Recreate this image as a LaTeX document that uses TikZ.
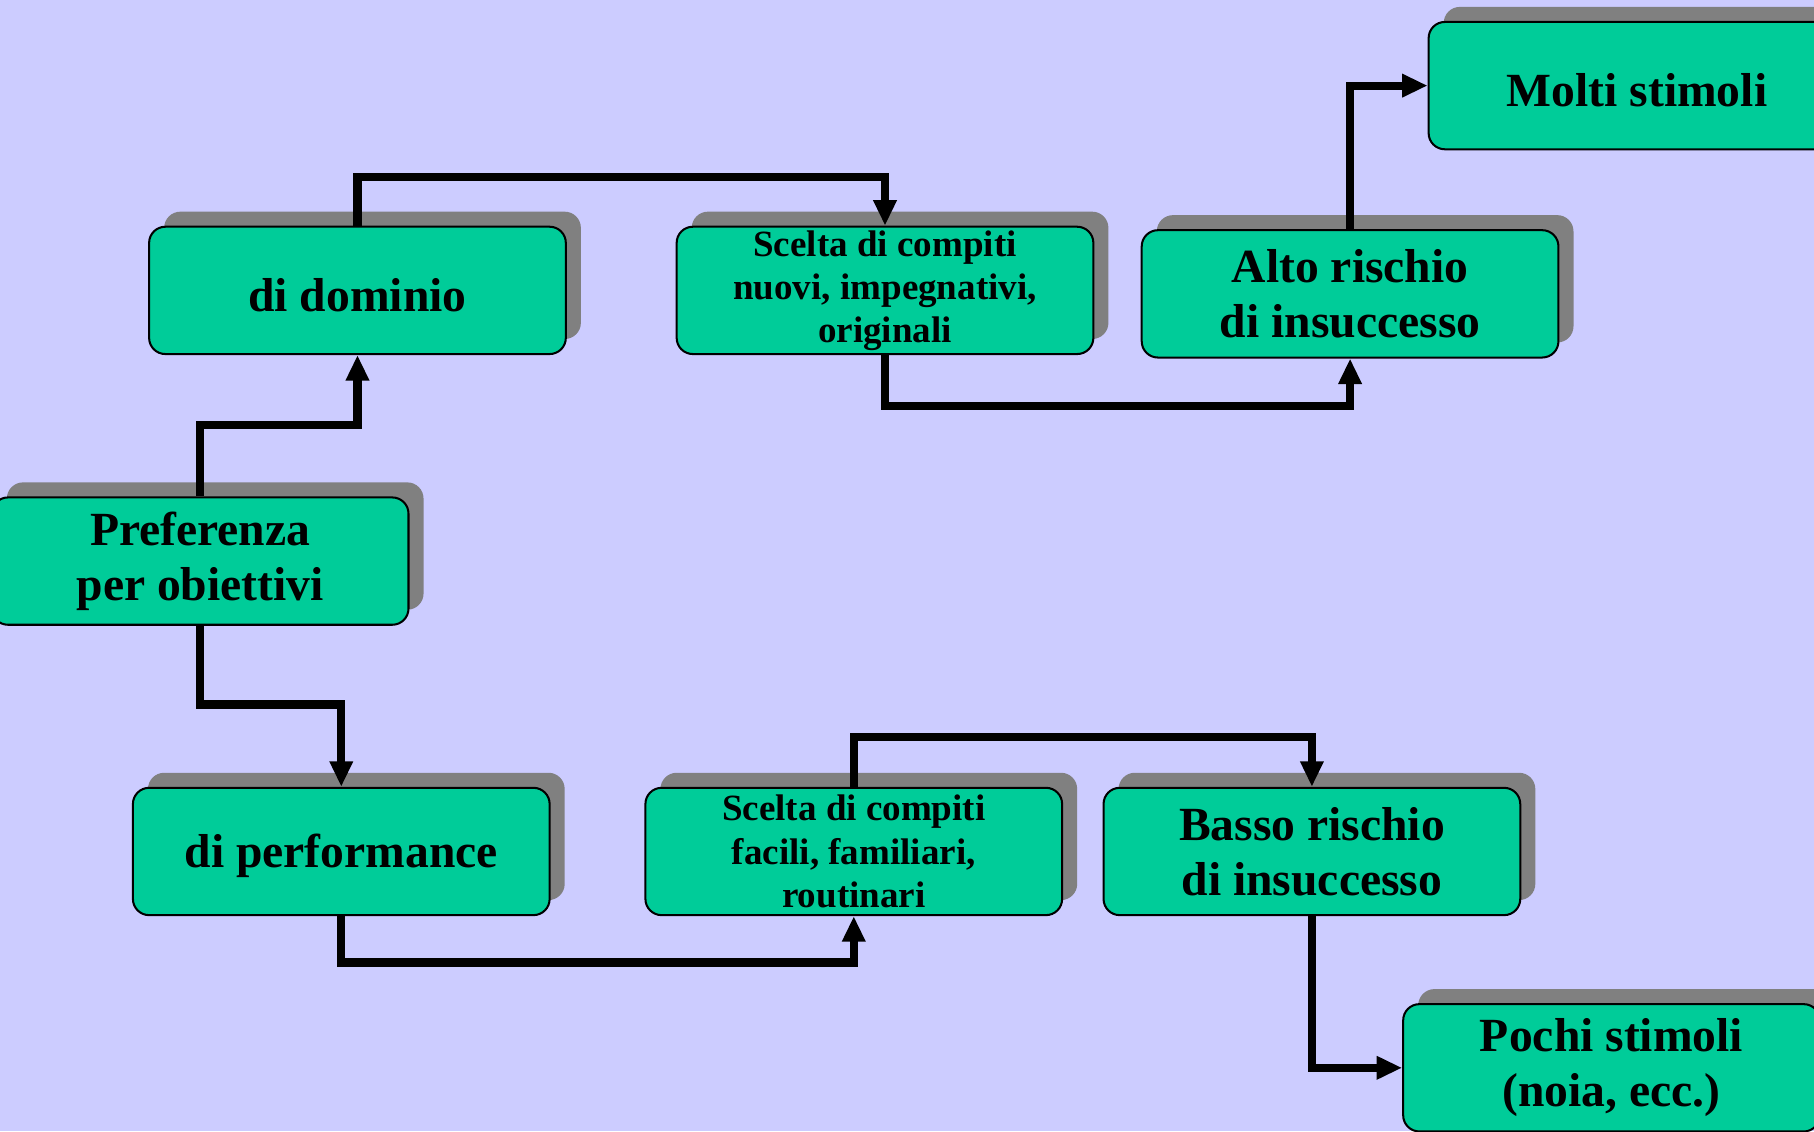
\documentclass[tikz,border=0pt]{standalone}
\usepackage{fontspec}
\setmainfont{Liberation Serif}
\usetikzlibrary{arrows.meta,shadows}
\definecolor{sfondo}{HTML}{CCCCFF}
\definecolor{verde}{HTML}{00CC99}
\newcommand{\testogrande}{\fontsize{11.7}{13.6}\selectfont\bfseries}
\newcommand{\testopiccolo}{\fontsize{9.1}{10.6}\selectfont\bfseries}

\begin{document}
\begin{tikzpicture}[x=0.01cm,y=-0.01cm,>={Triangle[length=0.22cm,width=0.19cm]},
  box/.style={draw,line width=0.5pt,rounded corners=0.14cm,fill=verde,inner sep=0pt,
    minimum width=3.6cm,minimum height=1.1cm,align=center,font=\testogrande,
    execute at begin node={\rule{0pt}{0.9em}},
    drop shadow={shadow xshift=0.13cm,shadow yshift=0.13cm,fill=gray,opacity=1}},
  conn/.style={->,line width=2pt}]
\clip (0,0) rectangle (1568,978);
\fill[sfondo] (0,0) rectangle (1568,978);
% riquadri
\node[box] (pref) at (173,485) {Preferenza\\per obiettivi};
\node[box] (dominio) at (309,251) {di dominio};
\node[box,font=\testopiccolo] (nuovi) at (765,251) {Scelta di compiti\\nuovi, impegnativi,\\originali};
\node[box] (alto) at (1167,254) {Alto rischio\\di insuccesso};
\node[box] (molti) at (1415,74) {Molti stimoli};
\node[box] (perf) at (295,736) {di performance};
\node[box,font=\testopiccolo] (facili) at (738,736) {Scelta di compiti\\facili, familiari,\\routinari};
\node[box] (basso) at (1134,736) {Basso rischio\\di insuccesso};
\node[box] (pochi) at (1393,923) {Pochi stimoli\\(noia, ecc.)};
% frecce
\draw[conn] (pref.north) -- ++(0,-62) -| (dominio.south);
\draw[conn] (dominio.north) -- ++(0,-42) -| (nuovi.north);
\draw[conn] (nuovi.south) -- ++(0,44) -| (alto.south);
\draw[conn] (alto.north) |- (molti.west);
\draw[conn] (pref.south) -- ++(0,68) -| (perf.north);
\draw[conn] (perf.south) -- ++(0,40) -| (facili.south);
\draw[conn] (facili.north) -- ++(0,-43) -| (basso.north);
\draw[conn] (basso.south) |- (pochi.west);
\end{tikzpicture}
\end{document}
